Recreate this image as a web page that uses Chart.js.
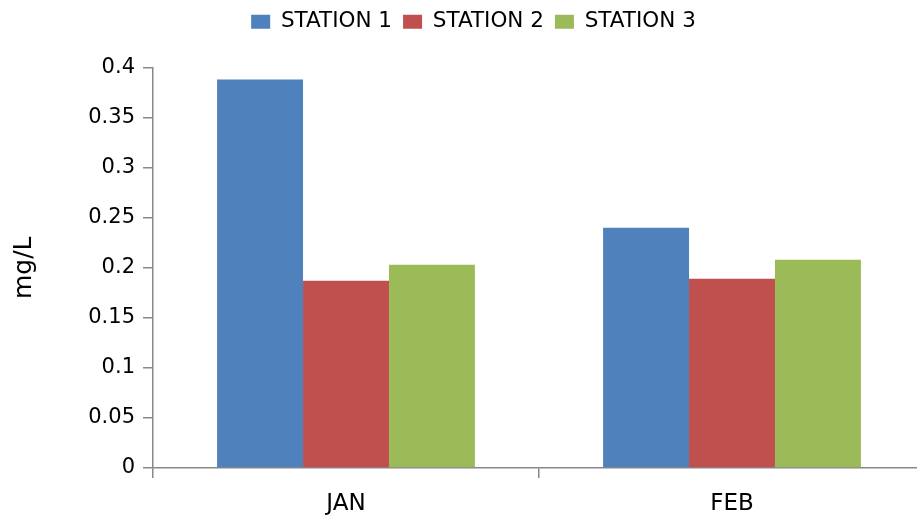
<!DOCTYPE html>
<html>
<head>
<meta charset="utf-8">
<script src="https://cdn.jsdelivr.net/npm/chart.js@4"></script>
<style>
  html, body { margin: 0; padding: 0; background: #fff; overflow: hidden; }
  #wrap { position: relative; width: 925px; height: 521px; }
</style>
</head>
<body>
<div id="wrap"><canvas id="chart"></canvas></div>
<script>
/* Station concentrations by month, mg/L */

var months = ['JAN', 'FEB'];
var station1 = [0.388, 0.240];
var station2 = [0.187, 0.189];
var station3 = [0.203, 0.208];
var stationNames = ['STATION 1', 'STATION 2', 'STATION 3'];
var yTickLabels = ['0', '0.05', '0.1', '0.15', '0.2', '0.25', '0.3', '0.35', '0.4'];

(function () {
  var axisColor = '#888888';
  var fontFamily = '"DejaVu Sans", sans-serif';

  // push the plot down a bit below the legend
  var legendGap = {
    id: 'legendGap',
    beforeInit: function (chart) {
      var fit = chart.legend.fit;
      chart.legend.fit = function () {
        fit.call(this);
        this.height += 25;
      };
    },
  };

  var el = document.getElementById('chart');
  new Chart(el, {
    type: 'bar',
    data: {
      labels: months,
      datasets: [
        { label: stationNames[0], data: station1, backgroundColor: '#4F81BD' },
        { label: stationNames[1], data: station2, backgroundColor: '#C0504D' },
        { label: stationNames[2], data: station3, backgroundColor: '#9BBB59' },
      ],
    },
    plugins: [legendGap],
    options: {
      responsive: true,
      maintainAspectRatio: false,
      animation: false,
      layout: { padding: { left: 22, top: 0, right: 0, bottom: 0 } },
      datasets: {
        bar: { barPercentage: 1, categoryPercentage: 0.668, borderWidth: 0 },
      },
      plugins: {
        tooltip: { enabled: false },
        legend: {
          position: 'top',
          labels: {
            boxWidth: 19,
            boxHeight: 14,
            padding: 11,
            color: '#000',
            font: { family: fontFamily, size: 21.5 },
          },
        },
      },
      scales: {
        x: {
          grid: {
            offset: true,
            drawOnChartArea: false,
            drawTicks: true,
            tickLength: 10,
            color: axisColor,
            lineWidth: 1.5,
          },
          border: { display: true, color: axisColor, width: 1.5 },
          ticks: { color: '#000', padding: 12, font: { family: fontFamily, size: 23 } },
          afterFit: function (scale) { scale.height = 53; },
        },
        y: {
          min: 0,
          max: 0.4,
          grid: {
            drawOnChartArea: false,
            drawTicks: true,
            tickLength: 10,
            color: axisColor,
            lineWidth: 1.5,
          },
          border: { display: true, color: axisColor, width: 1.5 },
          ticks: {
            stepSize: 0.05,
            color: '#000',
            padding: 8,
            font: { family: fontFamily, size: 21 },
            callback: function (v, i) { return yTickLabels[i]; },
          },
          title: {
            display: true,
            text: 'mg/L',
            color: '#000',
            padding: { top: 0, bottom: 0 },
            font: { family: fontFamily, size: 25, lineHeight: 0.2 },
          },
          afterFit: function (scale) { scale.width = 131; },
        },
      },
    },
  });
})();
</script>
</body>
</html>
